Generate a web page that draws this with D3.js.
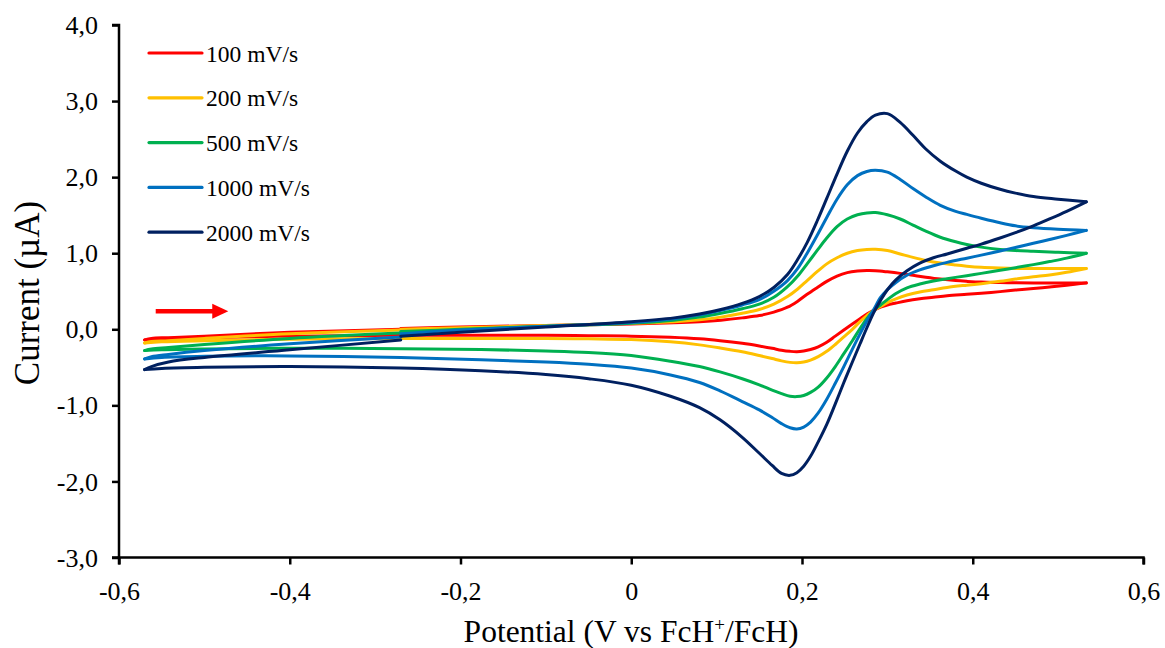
<!DOCTYPE html>
<html>
<head>
<meta charset="utf-8">
<script src="https://cdn.jsdelivr.net/npm/d3@7"></script>
<style>
  html, body { margin: 0; padding: 0; background: #ffffff; }
  svg { display: block; }
  text { font-family: "Liberation Serif", "Times New Roman", serif; fill: #000; }
</style>
</head>
<body>
<svg id="chart" width="1165" height="648"></svg>
<script>
// Cyclic voltammograms of FcH at several scan rates.
// Each scan starts at -0.27 V, sweeps up to +0.533 V, back down to -0.57 V, then returns to -0.27 V.

const xTicks = [-0.6, -0.4, -0.2, 0, 0.2, 0.4, 0.6];
const xTickLabels = ["-0,6", "-0,4", "-0,2", "0", "0,2", "0,4", "0,6"];
const yTicks = [4, 3, 2, 1, 0, -1, -2, -3];
const yTickLabels = ["4,0", "3,0", "2,0", "1,0", "0,0", "-1,0", "-2,0", "-3,0"];

const seriesNames = ["100 mV/s", "200 mV/s", "500 mV/s", "1000 mV/s", "2000 mV/s"];
const seriesColors = ["#FF0000", "#FFC000", "#00B050", "#0070C0", "#002060"];

// Potential (V vs FcH+/FcH) along the scan: forward sweep, reverse sweep, return to start.
const potential = [
  -0.27, -0.2, -0.1, 0, 0.05, 0.08, 0.105, 0.13, 0.15, 0.167, 0.183, 0.195, 0.206, 0.218, 0.229, 0.241, 0.253,
  0.265, 0.276, 0.286, 0.3, 0.315, 0.33, 0.345, 0.362, 0.38, 0.393, 0.41, 0.432, 0.45, 0.471, 0.5, 0.533,
  0.51, 0.49, 0.471, 0.45, 0.432, 0.41, 0.393, 0.37, 0.354, 0.338, 0.323, 0.31, 0.3, 0.292, 0.284, 0.276,
  0.268, 0.259, 0.249, 0.239, 0.229, 0.219, 0.21, 0.202, 0.194, 0.186, 0.176, 0.165, 0.15, 0.13, 0.104, 0.08,
  0.046, 0, -0.05, -0.1, -0.176, -0.27, -0.4, -0.5, -0.55, -0.57,
  -0.562, -0.542, -0.5, -0.4, -0.27
];

// Current (µA) at each potential above.
const current100 = [
  0.01, 0.03, 0.05, 0.07, 0.085, 0.1, 0.12, 0.15, 0.18, 0.225, 0.29, 0.37, 0.46, 0.55, 0.63, 0.70, 0.745,
  0.765, 0.772, 0.77, 0.755, 0.735, 0.71, 0.685, 0.66, 0.64, 0.63, 0.62, 0.615, 0.612, 0.61, 0.61, 0.61,
  0.58, 0.555, 0.535, 0.515, 0.495, 0.475, 0.46, 0.44, 0.42, 0.40, 0.375, 0.345, 0.32, 0.29, 0.25, 0.20,
  0.14, 0.07, -0.01, -0.09, -0.17, -0.23, -0.265, -0.285, -0.295, -0.29, -0.275, -0.25, -0.22, -0.185, -0.15, -0.125,
  -0.105, -0.09, -0.085, -0.08, -0.08, -0.08, -0.09, -0.11, -0.125, -0.14,
  -0.12, -0.11, -0.09, -0.04, 0.0
];
const current200 = [
  0.0, 0.02, 0.05, 0.08, 0.1, 0.125, 0.16, 0.21, 0.26, 0.33, 0.43, 0.53, 0.64, 0.76, 0.86, 0.94, 1.0,
  1.035, 1.05, 1.052, 1.035, 0.99, 0.945, 0.905, 0.87, 0.845, 0.83, 0.815, 0.805, 0.8, 0.8, 0.8, 0.8,
  0.75, 0.715, 0.69, 0.66, 0.63, 0.60, 0.58, 0.55, 0.52, 0.49, 0.45, 0.40, 0.35, 0.30, 0.25, 0.18,
  0.10, 0.0, -0.1, -0.2, -0.29, -0.36, -0.405, -0.43, -0.44, -0.435, -0.415, -0.385, -0.345, -0.295, -0.245, -0.205,
  -0.165, -0.135, -0.125, -0.12, -0.12, -0.12, -0.13, -0.15, -0.165, -0.18,
  -0.16, -0.15, -0.12, -0.06, -0.01
];
const current500 = [
  -0.03, 0.0, 0.04, 0.08, 0.12, 0.16, 0.21, 0.27, 0.33, 0.42, 0.56, 0.70, 0.86, 1.04, 1.20, 1.35, 1.45,
  1.505, 1.53, 1.535, 1.505, 1.45, 1.37, 1.29, 1.21, 1.15, 1.115, 1.08, 1.05, 1.035, 1.025, 1.012, 1.0,
  0.935, 0.89, 0.85, 0.81, 0.775, 0.735, 0.705, 0.665, 0.635, 0.595, 0.545, 0.47, 0.39, 0.32, 0.25, 0.14,
  0.01, -0.15, -0.32, -0.49, -0.64, -0.76, -0.83, -0.87, -0.885, -0.88, -0.845, -0.80, -0.73, -0.65, -0.56, -0.49,
  -0.42, -0.345, -0.305, -0.285, -0.265, -0.255, -0.25, -0.26, -0.27, -0.28,
  -0.26, -0.24, -0.20, -0.12, -0.05
];
const current1000 = [
  -0.06, -0.01, 0.04, 0.09, 0.14, 0.19, 0.25, 0.32, 0.39, 0.50, 0.64, 0.80, 1.0, 1.24, 1.47, 1.71, 1.90,
  2.02, 2.075, 2.09, 2.065, 1.97, 1.85, 1.74, 1.63, 1.55, 1.51, 1.46, 1.40, 1.36, 1.335, 1.315, 1.30,
  1.235, 1.18, 1.13, 1.075, 1.03, 0.975, 0.935, 0.88, 0.835, 0.78, 0.71, 0.615, 0.52, 0.42, 0.26, 0.11,
  -0.06, -0.26, -0.49, -0.71, -0.92, -1.10, -1.22, -1.285, -1.31, -1.295, -1.24, -1.16, -1.06, -0.95, -0.81, -0.70,
  -0.60, -0.51, -0.46, -0.43, -0.40, -0.37, -0.35, -0.355, -0.37, -0.39,
  -0.36, -0.33, -0.28, -0.19, -0.10
];
const current2000 = [
  -0.09, -0.04, 0.03, 0.10, 0.15, 0.20, 0.26, 0.34, 0.43, 0.55, 0.72, 0.92, 1.14, 1.43, 1.72, 2.04, 2.34,
  2.58, 2.73, 2.815, 2.835, 2.72, 2.55, 2.37, 2.21, 2.08, 2.0, 1.92, 1.84, 1.79, 1.745, 1.71, 1.675,
  1.55, 1.45, 1.36, 1.27, 1.20, 1.12, 1.065, 0.99, 0.94, 0.87, 0.77, 0.65, 0.52, 0.38, 0.22, 0.02,
  -0.19, -0.43, -0.70, -0.98, -1.25, -1.48, -1.67, -1.80, -1.885, -1.92, -1.895, -1.79, -1.63, -1.42, -1.19, -1.03,
  -0.88, -0.735, -0.65, -0.595, -0.545, -0.51, -0.49, -0.50, -0.515, -0.53,
  -0.49, -0.43, -0.37, -0.27, -0.14
];

const currents = [current100, current200, current500, current1000, current2000];

const svg = d3.select("#chart");
const x = d3.scaleLinear().domain([-0.6, 0.6]).range([119, 1143.5]);
const y = d3.scaleLinear().domain([-3, 4]).range([557.5, 25]);

// Split a scan into sweeps wherever the direction of the potential reverses,
// so each switching vertex stays a sharp corner.
function sweeps(E, I) {
  const pts = E.map((e, i) => [e, I[i]]);
  const out = [];
  let cur = [pts[0]];
  let dir = Math.sign(pts[1][0] - pts[0][0]);
  for (let i = 1; i < pts.length; i++) {
    const d = Math.sign(pts[i][0] - pts[i - 1][0]);
    if (d !== dir && d !== 0) {
      out.push(cur);
      cur = [pts[i - 1]];
      dir = d;
    }
    cur.push(pts[i]);
  }
  out.push(cur);
  return out;
}

const line = d3.line()
  .x(d => x(d[0]))
  .y(d => y(d[1]))
  .curve(d3.curveCatmullRom.alpha(0.5));

const plot = svg.append("g");
seriesNames.forEach((name, k) => {
  sweeps(potential, currents[k]).forEach(seg => {
    plot.append("path")
      .attr("d", line(seg))
      .attr("fill", "none")
      .attr("stroke", seriesColors[k])
      .attr("stroke-width", 3)
      .attr("stroke-linecap", "round")
      .attr("stroke-linejoin", "round");
  });
});

// Axes
const xAxis = d3.axisBottom(x).tickValues(xTicks).tickSize(7).tickFormat((d, i) => xTickLabels[i]);
const yAxis = d3.axisLeft(y).tickValues(yTicks).tickSize(7).tickFormat((d, i) => yTickLabels[i]);

const gx = svg.append("g").attr("transform", "translate(0,557.5)").call(xAxis);
const gy = svg.append("g").attr("transform", "translate(119,0)").call(yAxis);

[gx, gy].forEach(g => {
  g.select(".domain").attr("stroke", "#000").attr("stroke-width", 2.5);
  g.selectAll(".tick line").attr("stroke", "#000").attr("stroke-width", 2.5);
  g.selectAll(".tick text")
    .style("font-family", "'Liberation Serif', 'Times New Roman', serif")
    .style("font-size", "26px")
    .attr("fill", "#000");
});
gx.select(".domain").attr("d", `M${x(-0.6)},7V0H${x(0.6)}V7`);
gy.select(".domain").attr("d", `M-7,${y(4)}H0V${y(-3)}H-7`);
gx.selectAll(".tick text").attr("y", 24).attr("dy", "0.71em");
gy.selectAll(".tick text").attr("x", -21).attr("dy", "0.33em");

// Axis titles
svg.append("text")
  .attr("x", 631).attr("y", 642)
  .attr("text-anchor", "middle")
  .style("font-size", "31.5px")
  .html('Potential (V vs FcH<tspan dy="-11" font-size="19px">+</tspan><tspan dy="11">/FcH)</tspan>');

svg.append("text")
  .attr("transform", "translate(39,293) rotate(-90)")
  .attr("text-anchor", "middle")
  .style("font-size", "35px")
  .text("Current (µA)");

// Scan direction arrow
const arrowY = y(0.237);
const arrowX0 = x(-0.557), arrowX1 = x(-0.472);
svg.append("line")
  .attr("x1", arrowX0).attr("x2", arrowX1 - 14)
  .attr("y1", arrowY).attr("y2", arrowY)
  .attr("stroke", "#FF0000").attr("stroke-width", 4.3);
svg.append("path")
  .attr("d", `M${arrowX1},${arrowY}L${arrowX1 - 16},${arrowY - 7.5}L${arrowX1 - 16},${arrowY + 7.5}Z`)
  .attr("fill", "#FF0000");

// Legend
const legend = svg.append("g");
seriesNames.forEach((name, k) => {
  const ly = 53 + k * 44.8;
  legend.append("line")
    .attr("x1", 149).attr("x2", 202)
    .attr("y1", ly).attr("y2", ly)
    .attr("stroke", seriesColors[k]).attr("stroke-width", 3.2)
    .attr("stroke-linecap", "round");
  legend.append("text")
    .attr("x", 206).attr("y", ly + 8.5)
    .style("font-size", "23.5px")
    .text(name);
});
</script>
</body>
</html>
